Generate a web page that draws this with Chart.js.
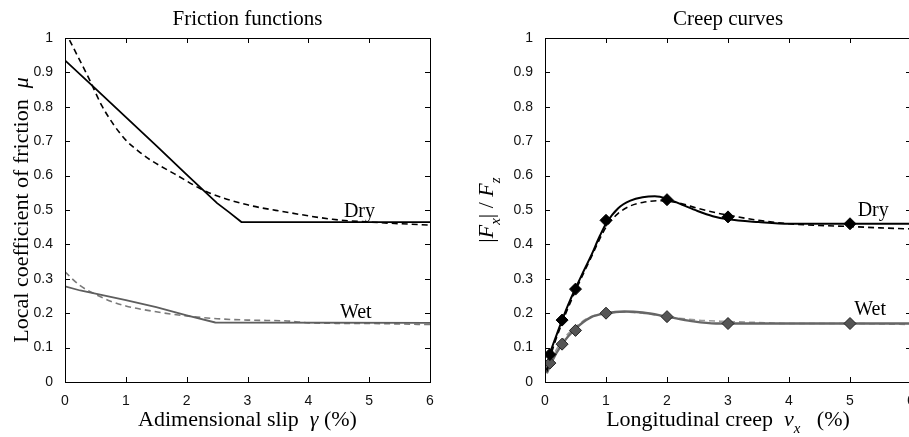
<!DOCTYPE html>
<html>
<head>
<meta charset="utf-8">
<script src="https://cdn.jsdelivr.net/npm/chart.js@4.4.0/dist/chart.umd.min.js"></script>
<style>
    html, body { margin: 0; padding: 0; background: #fff; overflow: hidden; width: 909px; height: 437px; }
    canvas { position: absolute; top: 0; }
    #friction { left: 0; }
    #creep { left: 460px; }
</style>
</head>
<body>
<canvas id="friction" width="450" height="437"></canvas>
<canvas id="creep" width="470" height="437"></canvas>
<script>
// ---- Friction functions (left panel) ----
const dryLawSlip = [0, 0.5, 1, 1.5, 2, 2.5, 2.7, 2.9, 6];
const dryLawMu = [0.935, 0.853, 0.77, 0.687, 0.603, 0.52, 0.493, 0.465, 0.465];
const dryFitSlip = [0, 0.2, 0.4, 0.6, 0.8, 1, 1.2, 1.4, 1.8, 2.33, 3, 3.6, 4.4, 5, 6];
const dryFitMu = [1.02, 0.95, 0.88, 0.805, 0.748, 0.703, 0.672, 0.646, 0.605, 0.553, 0.515, 0.495, 0.473, 0.465, 0.456];
const wetLawSlip = [0, 0.25, 0.5, 1, 1.5, 2, 2.47, 6];
const wetLawMu = [0.278, 0.266, 0.257, 0.238, 0.218, 0.194, 0.173, 0.172];
const wetFitSlip = [0, 0.25, 0.5, 0.75, 1, 1.5, 2, 2.5, 3, 3.7, 4, 5, 6];
const wetFitMu = [0.32, 0.28, 0.255, 0.235, 0.221, 0.204, 0.192, 0.184, 0.18, 0.177, 0.172, 0.17, 0.167];

// ---- Creep curves (right panel) ----
const dryCreepX = [0.03, 0.08, 0.18, 0.28, 0.4, 0.5, 0.6, 0.75, 0.9, 1, 1.2, 1.4, 1.6, 1.8, 2, 2.25, 2.5, 2.75, 3, 3.5, 4, 5, 6];
const dryCreepF = [0.035, 0.08, 0.132, 0.18, 0.233, 0.272, 0.31, 0.365, 0.425, 0.46, 0.505, 0.527, 0.537, 0.54, 0.533, 0.515, 0.497, 0.482, 0.473, 0.465, 0.46, 0.46, 0.46];
const dryCreepFitX = [0.03, 0.1, 0.28, 0.5, 0.75, 1, 1.2, 1.4, 1.6, 1.9, 2.2, 2.5, 2.8, 3, 3.5, 4, 4.5, 5, 5.5, 6];
const dryCreepFitF = [0.03, 0.08, 0.172, 0.265, 0.36, 0.45, 0.49, 0.512, 0.522, 0.527, 0.52, 0.505, 0.492, 0.485, 0.47, 0.46, 0.455, 0.452, 0.448, 0.445];
const wetCreepX = [0.03, 0.1, 0.28, 0.5, 0.75, 1, 1.3, 1.6, 2, 2.4, 2.8, 3, 4, 5, 6];
const wetCreepF = [0.025, 0.055, 0.11, 0.155, 0.188, 0.2, 0.205, 0.202, 0.19, 0.177, 0.17, 0.17, 0.17, 0.17, 0.17];
const wetCreepFitX = [0.03, 0.1, 0.28, 0.5, 0.75, 1, 1.3, 1.6, 2, 2.5, 3, 3.5, 4, 5, 6];
const wetCreepFitF = [0.035, 0.065, 0.12, 0.16, 0.19, 0.2, 0.203, 0.2, 0.19, 0.18, 0.176, 0.173, 0.17, 0.17, 0.167];
const measuredCreep = [0.08, 0.28, 0.5, 1, 2, 3, 5];
const measuredDry = [0.08, 0.18, 0.27, 0.47, 0.53, 0.48, 0.46];
const measuredWet = [0.055, 0.11, 0.15, 0.2, 0.19, 0.17, 0.17];

const xTicks = [0, 1, 2, 3, 4, 5, 6];

const serif = "'Liberation Serif', 'Times New Roman', serif";
const sans = "'Liberation Sans', Arial, sans-serif";
const pts = (xs, ys) => xs.map((x, i) => ({ x: x, y: ys[i] }));

// draws a row of text pieces (different fonts / subscripts) centred on cx
function richText(ctx, parts, cx, baseY) {
    let total = 0;
    parts.forEach(p => { ctx.font = p.font; p.w = ctx.measureText(p.t).width; total += p.w; });
    let x = cx - total / 2;
    ctx.textAlign = 'left';
    ctx.textBaseline = 'alphabetic';
    parts.forEach(p => {
        ctx.font = p.font;
        ctx.fillText(p.t, x, baseY + (p.dy || 0));
        x += p.w;
    });
}

const matlabFrame = {
    id: 'matlabFrame',
    afterDatasetsDraw(chart, args, opts) {
        const { ctx, chartArea: a, scales: { x, y } } = chart;
        ctx.save();
        ctx.strokeStyle = '#000';
        ctx.lineWidth = 1;
        ctx.strokeRect(a.left + 0.5, a.top + 0.5, a.right - a.left, a.bottom - a.top);
        // inward ticks on all four sides
        ctx.beginPath();
        x.ticks.forEach(t => {
            const px = Math.round(x.getPixelForValue(t.value)) + 0.5;
            ctx.moveTo(px, a.bottom); ctx.lineTo(px, a.bottom - 5);
            ctx.moveTo(px, a.top); ctx.lineTo(px, a.top + 5);
        });
        y.ticks.forEach(t => {
            const py = Math.round(y.getPixelForValue(t.value)) + 0.5;
            ctx.moveTo(a.left, py); ctx.lineTo(a.left + 5, py);
            ctx.moveTo(a.right, py); ctx.lineTo(a.right - 5, py);
        });
        ctx.stroke();

        ctx.fillStyle = '#000';
        const cx = (a.left + a.right) / 2;
        richText(ctx, [{ t: opts.title, font: '21px ' + serif }], cx, a.top - 13);
        richText(ctx, opts.xLabel, cx, a.bottom + 44);

        ctx.save();
        ctx.translate(opts.yLabelX, (a.top + a.bottom) / 2);
        ctx.rotate(-Math.PI / 2);
        richText(ctx, opts.yLabel, 0, 0);
        ctx.restore();

        ctx.font = '20px ' + serif;
        ctx.textAlign = 'center';
        ctx.textBaseline = 'alphabetic';
        opts.notes.forEach(n => ctx.fillText(n.text, x.getPixelForValue(n.x), y.getPixelForValue(n.y)));
        ctx.restore();
    }
};

function makeOptions(cfg) {
    return {
        responsive: false,
        animation: false,
        devicePixelRatio: 1,
        layout: { padding: { top: 38, right: cfg.padRight, left: 0, bottom: 0 } },
        plugins: {
            legend: { display: false },
            tooltip: { enabled: false },
            matlabFrame: cfg
        },
        scales: {
            x: {
                type: 'linear', min: 0, max: 6,
                grid: { display: false }, border: { display: false },
                afterBuildTicks: s => { s.ticks = xTicks.map(v => ({ value: v })); },
                ticks: { padding: 3, color: '#111', maxRotation: 0, font: { family: sans, size: 14 } },
                afterFit: s => { s.height = 55; }
            },
            y: {
                type: 'linear', min: 0, max: 1,
                grid: { display: false }, border: { display: false },
                ticks: {
                    stepSize: 0.1, padding: 4, color: '#111', font: { family: sans, size: 14 },
                    callback: v => String(+v.toFixed(1))
                },
                afterFit: s => { s.width = cfg.yWidth; }
            }
        }
    };
}

function curve(data, color, width, dashed, smooth) {
    return {
        data: data, borderColor: color, borderWidth: width, borderDash: dashed ? [6, 4] : [],
        pointRadius: 0, fill: false, order: 2,
        cubicInterpolationMode: smooth ? 'monotone' : 'default', tension: 0
    };
}

function markers(data, fill, edge) {
    return {
        data: data, showLine: false, pointStyle: 'rectRot', pointRadius: 6,
        backgroundColor: fill, borderColor: edge, borderWidth: 1, order: 0
    };
}

new Chart(document.getElementById('friction'), {
    type: 'line',
    data: {
        datasets: [
            curve(pts(dryLawSlip, dryLawMu), '#000', 1.8, false, false),
            curve(pts(dryFitSlip, dryFitMu), '#000', 1.6, true, true),
            curve(pts(wetLawSlip, wetLawMu), '#5e5e5e', 1.8, false, false),
            curve(pts(wetFitSlip, wetFitMu), '#7a7a7a', 1.6, true, true)
        ]
    },
    options: makeOptions({
        padRight: 20, yWidth: 65, yLabelX: 28,
        title: 'Friction functions',
        xLabel: [
            { t: 'Adimensional slip  ', font: '22px ' + serif },
            { t: 'γ', font: 'italic 22px ' + serif },
            { t: ' (%)', font: '22px ' + serif }
        ],
        yLabel: [
            { t: 'Local coefficient of friction  ', font: '22px ' + serif },
            { t: 'μ', font: 'italic 22px ' + serif }
        ],
        notes: [{ text: 'Dry', x: 4.84, y: 0.48 }, { text: 'Wet', x: 4.78, y: 0.186 }]
    }),
    plugins: [matlabFrame]
});

new Chart(document.getElementById('creep'), {
    type: 'line',
    data: {
        datasets: [
            markers(pts(measuredCreep, measuredDry), '#000', '#000'),
            markers(pts(measuredCreep, measuredWet), '#555', '#222'),
            curve(pts(dryCreepX, dryCreepF), '#000', 2, false, true),
            curve(pts(dryCreepFitX, dryCreepFitF), '#000', 1.6, true, true),
            curve(pts(wetCreepX, wetCreepF), '#666', 2.4, false, true),
            curve(pts(wetCreepFitX, wetCreepFitF), '#9a9a9a', 1.6, true, true)
        ]
    },
    options: makeOptions({
        padRight: 19, yWidth: 85, yLabelX: 33,
        title: 'Creep curves',
        xLabel: [
            { t: 'Longitudinal creep  ', font: '22px ' + serif },
            { t: 'ν', font: 'italic 22px ' + serif },
            { t: 'x', font: 'italic 15px ' + serif, dy: 7 },
            { t: '   (%)', font: '22px ' + serif }
        ],
        yLabel: [
            { t: '|', font: '22px ' + serif },
            { t: 'F', font: 'italic 22px ' + serif },
            { t: 'x', font: 'italic 15px ' + serif, dy: 7 },
            { t: '| / ', font: '22px ' + serif },
            { t: 'F', font: 'italic 22px ' + serif },
            { t: 'z', font: 'italic 15px ' + serif, dy: 7 }
        ],
        notes: [{ text: 'Dry', x: 5.38, y: 0.483 }, { text: 'Wet', x: 5.33, y: 0.195 }]
    }),
    plugins: [matlabFrame]
});
</script>
</body>
</html>
